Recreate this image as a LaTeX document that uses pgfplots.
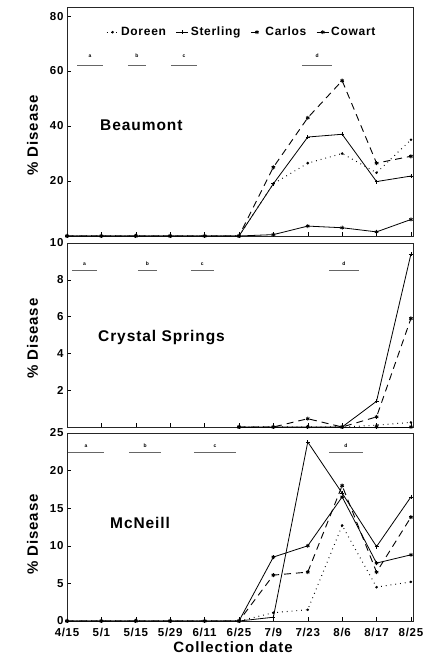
\documentclass[border=0pt]{standalone}
\usepackage{fontspec}
\setmainfont{Liberation Sans}[LetterSpace=6]
\usepackage{pgfplots}
\pgfplotsset{compat=1.18}

\pgfplotsset{
  panel/.style={
    scale only axis, width=346pt, xmin=0, xmax=10.06, ymin=0,
    xtick={0,...,10}, xticklabels={}, tick align=inside, tick pos=left,
    major tick length=4pt,
    axis line style={line width=0.6pt, black!85},
    every tick/.style={black, line width=0.5pt},
    /pgf/number format/assume math mode=true,
    tick label style={font=\fontsize{11.5}{13}\selectfont\bfseries},
    ylabel={\% Disease},
    ylabel style={font=\fontsize{15}{17}\selectfont\bfseries, anchor=center},
    clip=false,
  },
  doreen/.style={black, line width=1pt, dash pattern=on 0.8pt off 4pt, mark=*, mark size=0.7pt, mark options={solid}},
  sterling/.style={black, line width=0.8pt, mark=+, mark size=2pt, mark options={solid}},
  carlos/.style={black, line width=0.9pt, dash pattern=on 7pt off 5pt, mark=asterisk, mark size=2pt, mark options={solid}},
  cowart/.style={black, line width=0.8pt, mark=asterisk, mark size=2pt, mark options={solid}},
}
\tikzset{
  seg/.style={black!60, line width=0.5pt},
  seglab/.style={font=\fontsize{5}{6}\selectfont\bfseries, inner sep=0pt},
  site/.style={font=\fontsize{15.5}{18}\selectfont\bfseries, anchor=west, inner sep=0pt},
}

\begin{document}
\begin{tikzpicture}
\useasboundingbox (0pt,0pt) rectangle (440pt,666pt);

% ---------------- Beaumont ----------------
\begin{axis}[panel, at={(67pt,430pt)}, anchor=south west, height=229pt,
  ymax=83.3, ytick={20,40,60,80},
  ylabel style={at={(axis description cs:-0.1,0.44)}},
  legend columns=4,
  legend image code/.code={\draw[mark repeat=2,mark phase=2,#1] plot coordinates {(0pt,0pt) (6pt,0pt) (12pt,0pt)};},
  legend style={draw=none, fill=none, at={(0.505,0.89)}, anchor=center,
    font=\fontsize{12}{14}\selectfont\bfseries,
    /tikz/every even column/.append style={column sep=8pt}}]
\addplot[doreen] coordinates {(0,0)(1,0)(2,0)(3,0)(4,0)(5,0)(6,19)(7,26.5)(8,30)(9,23)(10,35)};
\addlegendentry{Doreen}
\addplot[sterling] coordinates {(0,0)(1,0)(2,0)(3,0)(4,0)(5,0)(6,19)(7,36)(8,37)(9,19.8)(10,21.8)};
\addlegendentry{Sterling}
\addplot[carlos] coordinates {(0,0)(1,0)(2,0)(3,0)(4,0)(5,0)(6,25)(7,43)(8,56.5)(9,26.5)(10,29)};
\addlegendentry{Carlos}
\addplot[cowart] coordinates {(0,0)(1,0)(2,0)(3,0)(4,0)(5,0)(6,0.5)(7,3.6)(8,3)(9,1.5)(10,6)};
\addlegendentry{Cowart}
\draw[seg] (axis cs:0.30,62) -- (axis cs:1.05,62);
\draw[seg] (axis cs:1.77,62) -- (axis cs:2.29,62);
\draw[seg] (axis cs:3.02,62) -- (axis cs:3.78,62);
\draw[seg] (axis cs:6.83,62) -- (axis cs:7.70,62);
\node[seglab] at (axis cs:0.67,65.5) {a};
\node[seglab] at (axis cs:2.03,65.5) {b};
\node[seglab] at (axis cs:3.40,65.5) {c};
\node[seglab] at (axis cs:7.27,65.5) {d};
\node[site] at (axis cs:0.96,40.4) {Beaumont};
\end{axis}

% ---------------- Crystal Springs ----------------
\begin{axis}[panel, at={(67pt,239pt)}, anchor=south west, height=184pt,
  ymax=10, ytick={2,4,6,8,10},
  ylabel style={at={(axis description cs:-0.1,0.48)}}]
\addplot[doreen] coordinates {(5,0)(6,0)(7,0)(8,0)(9,0.1)(10,0.25)};
\addplot[sterling] coordinates {(5,0)(6,0)(7,0)(8,0)(9,1.4)(10,9.4)};
\addplot[carlos] coordinates {(5,0)(6,0)(7,0.45)(8,0)(9,0.55)(10,5.9)};
\addplot[cowart] coordinates {(5,0)(6,0)(7,0)(8,0)(9,0)(10,0)};
\draw[seg] (axis cs:0.15,8.5) -- (axis cs:0.87,8.5);
\draw[seg] (axis cs:2.06,8.5) -- (axis cs:2.62,8.5);
\draw[seg] (axis cs:3.60,8.5) -- (axis cs:4.27,8.5);
\draw[seg] (axis cs:7.62,8.5) -- (axis cs:8.49,8.5);
\node[seglab] at (axis cs:0.51,8.85) {a};
\node[seglab] at (axis cs:2.34,8.85) {b};
\node[seglab] at (axis cs:3.93,8.85) {c};
\node[seglab] at (axis cs:8.05,8.85) {d};
\node[site] at (axis cs:0.90,4.86) {Crystal Springs};
\end{axis}

% ---------------- McNeill ----------------
\begin{axis}[panel, at={(67pt,45pt)}, anchor=south west, height=188pt,
  ymax=25, ytick={0,5,10,15,20,25},
  ylabel style={at={(axis description cs:-0.1,0.46)}},
  xticklabels={4/15,5/1,5/15,5/29,6/11,6/25,7/9,7/23,8/6,8/17,8/25},
  xticklabel style={yshift=-4pt},
  xlabel={Collection date},
  xlabel style={font=\fontsize{15}{17}\selectfont\bfseries, at={(axis description cs:0.48,0)}, anchor=center, yshift=-26pt}]
\addplot[doreen] coordinates {(0,0)(1,0)(2,0)(3,0)(4,0)(5,0)(6,1.1)(7,1.5)(8,12.7)(9,4.5)(10,5.2)};
\addplot[sterling] coordinates {(0,0)(1,0)(2,0)(3,0)(4,0)(5,0)(6,0.5)(7,23.8)(8,17)(9,9.9)(10,16.5)};
\addplot[carlos] coordinates {(0,0)(1,0)(2,0)(3,0)(4,0)(5,0)(6,6.1)(7,6.5)(8,18)(9,6.5)(10,13.8)};
\addplot[cowart] coordinates {(0,0)(1,0)(2,0)(3,0)(4,0)(5,0)(6,8.5)(7,10)(8,16.5)(9,7.7)(10,8.8)};
\draw[seg] (axis cs:0.03,22.4) -- (axis cs:1.07,22.4);
\draw[seg] (axis cs:1.80,22.4) -- (axis cs:2.73,22.4);
\draw[seg] (axis cs:3.69,22.4) -- (axis cs:4.91,22.4);
\draw[seg] (axis cs:7.62,22.4) -- (axis cs:8.60,22.4);
\node[seglab] at (axis cs:0.55,23.3) {a};
\node[seglab] at (axis cs:2.27,23.3) {b};
\node[seglab] at (axis cs:4.30,23.3) {c};
\node[seglab] at (axis cs:8.11,23.3) {d};
\node[site] at (axis cs:1.25,13.1) {McNeill};
\end{axis}
\end{tikzpicture}
\end{document}
